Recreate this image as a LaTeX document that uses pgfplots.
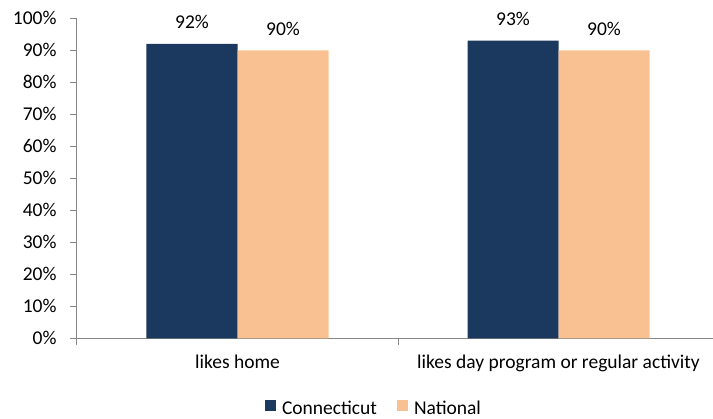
\documentclass[border=0pt]{standalone}
\usepackage{pgfplots}
\pgfplotsset{compat=1.18}
\usepackage{fontspec}
\setmainfont{Carlito}
\definecolor{navy}{RGB}{27,56,94}
\definecolor{peach}{RGB}{249,192,145}
\definecolor{axgray}{RGB}{134,134,134}
\begin{document}
\begin{tikzpicture}
\useasboundingbox (-77pt,-80.7pt) rectangle (636pt,338.3pt);
\begin{axis}[
  at={(0pt,0pt)}, anchor=south west,
  scale only axis, width=642pt, height=320pt,
  font=\fontsize{19.5}{22}\selectfont,
  /pgf/number format/assume math mode=true,
  ybar=0pt, bar width=91pt,
  xmin=-0.5, xmax=1.5, ymin=0, ymax=100,
  axis x line*=bottom, axis y line*=left,
  axis line style={draw=axgray, line width=1pt},
  xtick={-0.5,0.5,1.5}, xticklabels={},
  extra x ticks={0,1},
  extra x tick labels={likes home, likes day program or regular activity},
  extra x tick style={major tick length=0pt, xticklabel style={yshift=-13pt}},
  ytick={0,10,...,100},
  yticklabel={\pgfmathprintnumber{\tick}\%},
  yticklabel style={xshift=-10pt},
  tick align=outside, major tick length=7pt,
  tick style={draw=axgray, line width=1pt},
  nodes near coords={\pgfmathprintnumber{\pgfplotspointmeta}\%},
  every node near coord/.append style={inner sep=0pt, yshift=15pt, anchor=base, text=black},
  legend columns=2,
  legend style={at={(0.4626,-0.218)}, anchor=center, draw=none, fill=none,
    /tikz/every even column/.append style={column sep=18pt}},
  legend image code/.code={\fill[#1] (0pt,-3pt) rectangle (11pt,8pt); \path (15pt,0pt);},
  enlargelimits=false, clip=false,
]
\addplot[fill=navy, draw=none] coordinates {(0,92) (1,93)};
\addplot[fill=peach, draw=none] coordinates {(0,90) (1,90)};
\legend{Connecticut, National}
\end{axis}
\end{tikzpicture}
\end{document}
